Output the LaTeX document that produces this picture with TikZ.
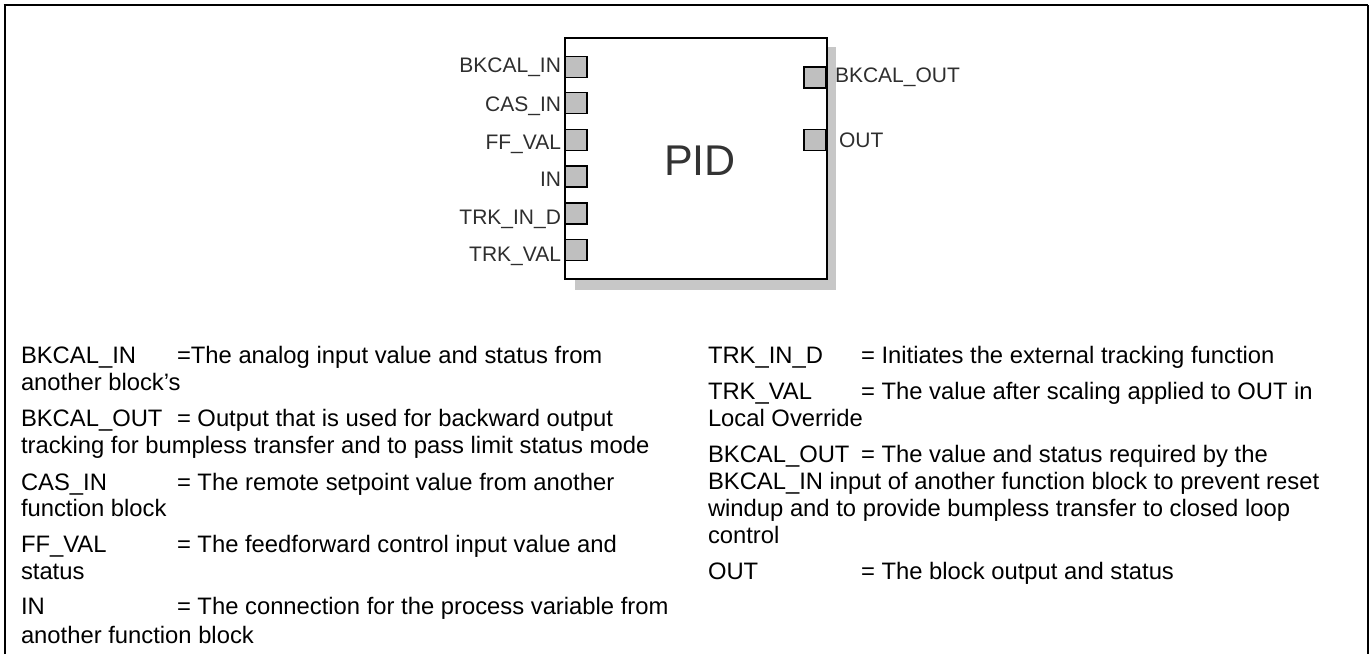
\documentclass[tikz,border=0pt]{standalone}
\usepackage{fontspec}
\setmainfont{Liberation Sans}
\begin{document}
\begin{tikzpicture}[x=1pt,y=-1pt,
  txt/.style={inner sep=0pt, outer sep=0pt, anchor=base west, text=black, font=\fontsize{23.8}{27}\selectfont},
  plabel/.style={inner sep=0pt, outer sep=0pt, text=black!82, font=\fontsize{21}{25}\selectfont},
  port/.style={draw=black, line width=1.8pt, fill=black!25, minimum width=22pt, minimum height=21pt, inner sep=0pt, outer sep=0pt},
]
\useasboundingbox (0,0) rectangle (1370,654);
% outer frame
\draw[line width=2.6pt] (5,654) -- (5,5);
\draw[line width=2pt] (3.7,5) -- (1368,5);
\draw[line width=1.5pt] (1368,5) -- (1368,654);
% shadow and block
\fill[black!22] (575,47) rectangle (836,290);
\draw[line width=1.8pt, fill=white] (565,38) rectangle (827,279);
\node[inner sep=0pt, text=black!80, font=\fontsize{43}{50}\selectfont] (pid) at (700,161) {PID};
% input ports
\node[port] (p1) at (576,67) {};
\node[port] (p2) at (576,103) {};
\node[port] (p3) at (576,140) {};
\node[port] (p4) at (576,176.5) {};
\node[port] (p5) at (576,213.5) {};
\node[port] (p6) at (576,250) {};
\node[plabel, anchor=base east] (l1) at (561,72) {BKCAL\_IN};
\node[plabel, anchor=base east] (l2) at (561,111) {CAS\_IN};
\node[plabel, anchor=base east] (l3) at (561,149) {FF\_VAL};
\node[plabel, anchor=base east] (l4) at (561,186) {IN};
\node[plabel, anchor=base east] (l5) at (561,224) {TRK\_IN\_D};
\node[plabel, anchor=base east] (l6) at (561,261) {TRK\_VAL};
% output ports
\node[port] (o1) at (815,77.5) {};
\node[port] (o2) at (815,140) {};
\node[plabel, anchor=base west] (r1) at (835,82) {BKCAL\_OUT};
\node[plabel, anchor=base west] (r2) at (839,147) {OUT};
% left column
\begin{scope}[yshift=-6pt]
\node[txt] (a1) at (21,357) {BKCAL\_IN};
\node[txt] (a1d) at (177,357) {=The analog input value and status from};
\node[txt] (a1e) at (21,384) {another block’s};
\node[txt] (a2) at (21,420) {BKCAL\_OUT};
\node[txt] (a2d) at (177,420) {= Output that is used for backward output};
\node[txt] (a2e) at (21,447) {tracking for bumpless transfer and to pass limit status mode};
\node[txt] (a3) at (21,484) {CAS\_IN};
\node[txt] (a3d) at (177,484) {= The remote setpoint value from another};
\node[txt] (a3e) at (21,510) {function block};
\node[txt] (a4) at (21,546) {FF\_VAL};
\node[txt] (a4d) at (177,546) {= The feedforward control input value and};
\node[txt] (a4e) at (21,573) {status};
\node[txt] (a5) at (21,608) {IN};
\node[txt] (a5d) at (177,608) {= The connection for the process variable from};
\node[txt] (a5e) at (21,637) {another function block};
% right column
\node[txt] (b1) at (708,357) {TRK\_IN\_D};
\node[txt] (b1d) at (861,357) {= Initiates the external tracking function};
\node[txt] (b2) at (708,393) {TRK\_VAL};
\node[txt] (b2d) at (861,393) {= The value after scaling applied to OUT in};
\node[txt] (b2e) at (708,420) {Local Override};
\node[txt] (b3) at (708,456) {BKCAL\_OUT};
\node[txt] (b3d) at (861,456) {= The value and status required by the};
\node[txt] (b3e) at (708,483) {BKCAL\_IN input of another function block to prevent reset};
\node[txt] (b3f) at (708,510) {windup and to provide bumpless transfer to closed loop};
\node[txt] (b3g) at (708,537) {control};
\node[txt] (b4) at (708,573) {OUT};
\node[txt] (b4d) at (861,573) {= The block output and status};
\end{scope}
\end{tikzpicture}
\end{document}
